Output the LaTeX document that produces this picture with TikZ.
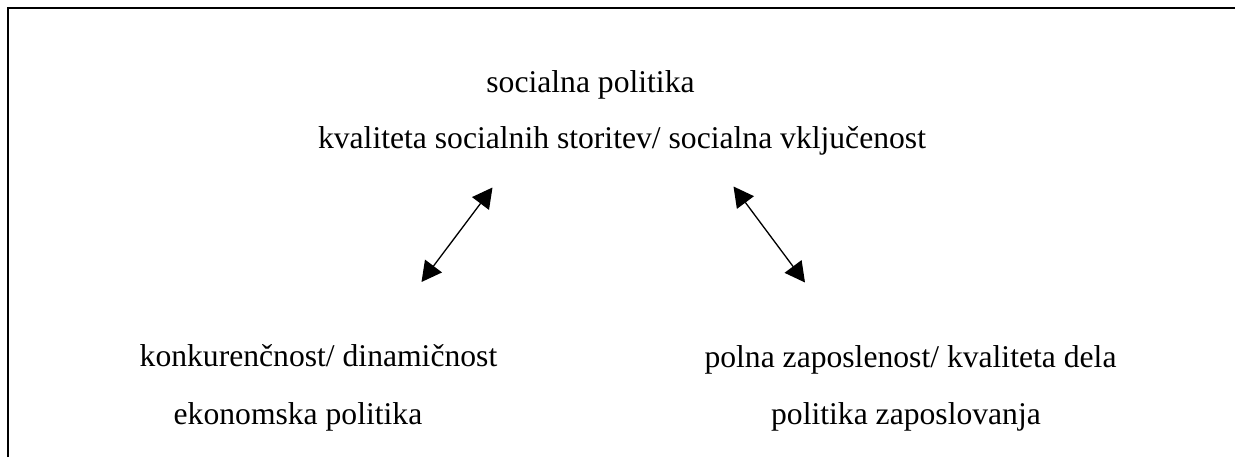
\documentclass[tikz,border=0pt]{standalone}
\usepackage{fontspec}
\setmainfont{Liberation Serif}
\usetikzlibrary{arrows.meta}

\begin{document}
\begin{tikzpicture}[
	txt/.style={font=\fontsize{18}{22}\selectfont, inner sep=0pt, anchor=base},
	link/.style={line width=0.75pt, {Triangle[length=0.4cm,width=0.42cm]}-{Triangle[length=0.4cm,width=0.42cm]}}
	]
	\useasboundingbox (0,0) rectangle (24.7,9.14);
	% draw frame
	\draw[line width=1.15pt] (0.16,0) -- (0.16,8.98) -- (24.7,8.98);
	% top block
	\node[txt] (soc) at (11.81,7.30) {socialna politika};
	\node[txt] (socq) at (12.44,6.18) {kvaliteta socialnih storitev/ socialna vključenost};
	% left block
	\node[txt] (konk) at (6.37,1.82) {konkurenčnost/ dinamičnost};
	\node[txt] (eko) at (5.96,0.66) {ekonomska politika};
	% right block
	\node[txt] (zap) at (18.21,1.80) {polna zaposlenost/ kvaliteta dela};
	\node[txt] (zappol) at (18.12,0.66) {politika zaposlovanja};
	% arrow ends
	\coordinate (ekoUp) at (9.85,5.39);
	\coordinate (ekoDown) at (8.43,3.50);
	\coordinate (zapUp) at (14.67,5.41);
	\coordinate (zapDown) at (16.10,3.49);
	% draw arrows
	\draw[link] (ekoDown) -- (ekoUp);
	\draw[link] (zapUp) -- (zapDown);
\end{tikzpicture}
\end{document}
